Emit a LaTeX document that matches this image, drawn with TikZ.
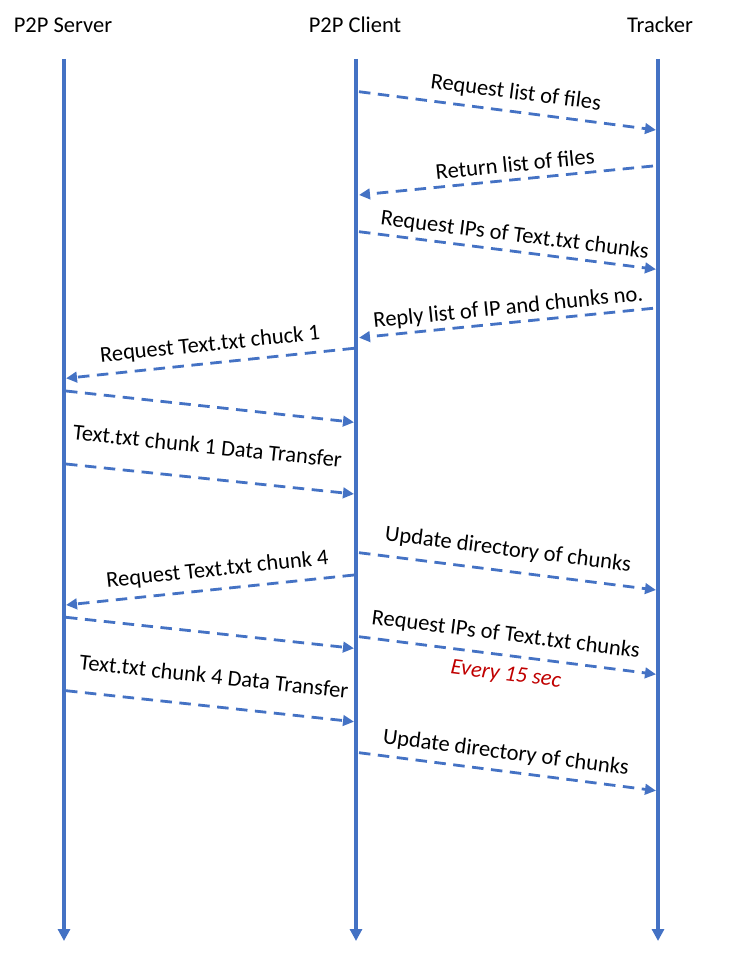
\documentclass[tikz,border=0pt]{standalone}
\usepackage{fontspec}
\setmainfont{Carlito}
\usetikzlibrary{arrows.meta}
\definecolor{lineblue}{HTML}{4472C4}
\definecolor{notered}{HTML}{C00000}
\begin{document}
\begin{tikzpicture}[x=1pt,y=-1pt,
  lifeline/.style={draw=lineblue,line width=4pt,-{Triangle[length=12pt,width=12pt]}},
  msg/.style={draw=lineblue,line width=2.8pt,dash pattern=on 11.5pt off 7.5pt,-{Triangle[length=11pt,width=10.5pt]}},
  head/.style={font=\fontsize{22.5}{26}\selectfont,inner sep=0pt,anchor=center},
  lbl/.style={font=\fontsize{22.5}{26}\selectfont,inner sep=0pt,anchor=center},
  note/.style={font=\fontsize{22.5}{26}\selectfont\itshape,text=notered,inner sep=0pt,anchor=center}]
\useasboundingbox (0,0) rectangle (750,965);
% headers
\node[head] (hs) at (63,25) {P2P Server};
\node[head] (hc) at (355,25) {P2P Client};
\node[head] (ht) at (660,25) {Tracker};
% lifelines
\coordinate (s0) at (64,59);  \coordinate (s1) at (64,941);
\coordinate (c0) at (356,59); \coordinate (c1) at (356,941);
\coordinate (t0) at (658,59); \coordinate (t1) at (658,941);
\draw[lifeline] (s0) -- (s1);
\draw[lifeline] (c0) -- (c1);
\draw[lifeline] (t0) -- (t1);
% message end points
\coordinate (m1a) at (359,91.7);  \coordinate (m1b) at (656,130);
\coordinate (m2a) at (653,166);   \coordinate (m2b) at (359,195);
\coordinate (m3a) at (359,231.7); \coordinate (m3b) at (656,269.3);
\coordinate (m4a) at (653,308.3); \coordinate (m4b) at (359,337.7);
\coordinate (m5a) at (354,348.3); \coordinate (m5b) at (66,378.3);
\coordinate (m6a) at (66,391);    \coordinate (m6b) at (354,422.3);
\coordinate (m7a) at (66,464);    \coordinate (m7b) at (354,494);
\coordinate (m8a) at (359,552.7); \coordinate (m8b) at (656,590);
\coordinate (m9a) at (354,575);   \coordinate (m9b) at (66,605);
\coordinate (m10a) at (66,617.3); \coordinate (m10b) at (354,648.3);
\coordinate (m11a) at (359,636.7);\coordinate (m11b) at (656,674.3);
\coordinate (m12a) at (66,690.7); \coordinate (m12b) at (354,721.7);
\coordinate (m13a) at (359,752.7);\coordinate (m13b) at (656,790.7);
\foreach \i in {1,...,13} {\draw[msg] (m\i a) -- (m\i b);}
% labels
\node[lbl,rotate=-7.3] (l1) at (515.8,93.3) {Request list of files};
\node[lbl,rotate=5.7] (l2) at (515,164) {Return list of files};
\node[lbl,rotate=-7.2] (l3) at (514.7,235.7) {Request IPs of Text.txt chunks};
\node[lbl,rotate=5.8] (l4) at (508.3,308.3) {Reply list of IP and chunks no.};
\node[lbl,rotate=5.9] (l5) at (210,345) {Request Text.txt chuck 1};
\node[lbl,rotate=-5.9] (l7) at (207.5,446) {Text.txt chunk 1 Data Transfer};
\node[lbl,rotate=-7.2] (l8) at (508,550) {Update directory of chunks};
\node[lbl,rotate=6.0] (l9) at (217.5,570) {Request Text.txt chunk 4};
\node[lbl,rotate=-7.2] (l11) at (505.8,635) {Request IPs of Text.txt chunks};
\node[note,rotate=-7.2] (n11) at (505.8,675) {Every 15 sec};
\node[lbl,rotate=-6.1] (l12) at (214,676) {Text.txt chunk 4 Data Transfer};
\node[lbl,rotate=-7.3] (l13) at (505.8,753.3) {Update directory of chunks};
\end{tikzpicture}
\end{document}
